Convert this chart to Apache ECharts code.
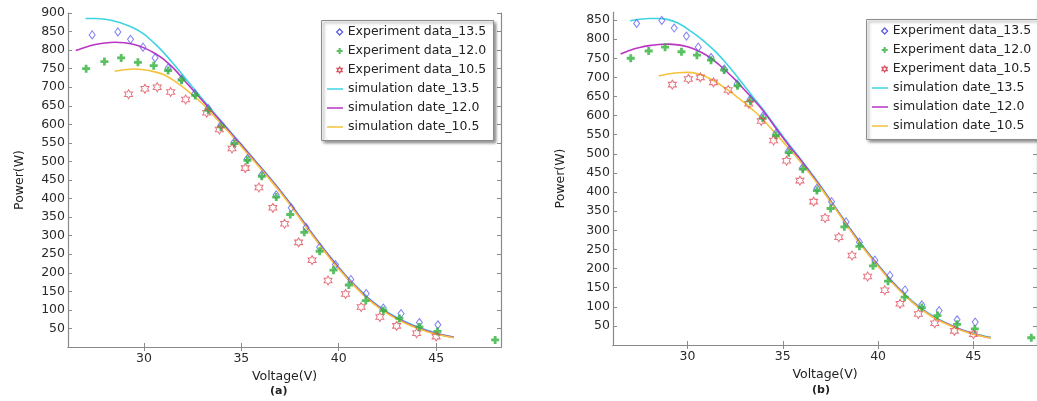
<!DOCTYPE html>
<html>
<head>
<meta charset="utf-8">
<script src="https://cdn.jsdelivr.net/npm/echarts@6/dist/echarts.min.js"></script>
<style>html,body{margin:0;padding:0;background:#fff;}#c{width:1037px;height:401px;}</style>
</head>
<body>
<div id="c"></div>
<script>
// ---------- data ----------
const xTickLabels = [30, 35, 40, 45];
const yTickLabelsA = [50,100,150,200,250,300,350,400,450,500,550,600,650,700,750,800,850,900];
const yTickLabelsB = [50,100,150,200,250,300,350,400,450,500,550,600,650,700,750,800,850];

const seriesNames = ['Experiment data_13.5','Experiment data_12.0','Experiment data_10.5',
                     'simulation date_13.5','simulation date_12.0','simulation date_10.5'];

const exp135V = [27.34,28.66,29.31,29.95,30.57,31.24,31.93,32.61,33.3,33.95,34.64,35.31,36.05,36.79,37.56,38.32,39.02,39.83,40.62,41.41,42.29,43.2,44.14,45.09];
const exp135P = [841,849,829,808,779,752,722,683,643,598,553,508,464,410,375,322,269,222,182,144,105,90,66,60];

const exp120V = [27.03,27.97,28.83,29.69,30.5,31.24,31.93,32.63,33.3,33.95,34.64,35.31,36.05,36.79,37.51,38.23,39.02,39.73,40.52,41.39,42.29,43.11,44.14,45.07,48.03];
const exp120P = [750,769,779,767,758,745,719,678,638,593,548,503,460,404,357,309,258,207,167,125,98,77,54,42,19];

const exp105V = [29.21,30.05,30.68,31.37,32.14,33.22,33.87,34.52,35.2,35.9,36.62,37.22,37.94,38.63,39.45,40.35,41.15,42.11,42.97,44.0,45.0];
const exp105P = [681,696,700,687,667,631,586,535,482,430,375,332,282,234,179,143,108,81,57,37,28];

const simV = [26.5,27,27.5,28,28.5,29,29.5,30,30.5,31,31.5,32,32.5,33,33.5,34,34.5,35,35.5,36,36.5,37,37.5,38,38.5,39,39.5,40,40.5,41,41.5,42,42.5,43,43.5,44,44.5,45,45.5,45.9];
// chart (a)
const simA135 = [null,885,885,883,878,870,859,843,820,794,764,732,700,668,637,607,576,546,515,485,454,422,388,352,316,281,247,215,185,158,133,112,94,79,66,55,46,38,31,27];
const simA120 = [799,808,815,819,821,820,815,806,793,776,752,723,693,664,634,605,574,544,513,483,452,420,386,350,314,279,245,213,183,156,131,110,92,77,64,53,44,36,30,26];
const simA105 = [null,null,null,null,743,747,749,747,742,734,719,700,679,656,628,599,570,540,510,480,449,417,383,347,311,276,242,210,181,154,129,108,90,75,62,51,42,35,29,25];
// chart (b)
const simB135 = [null,848,852,854,854,851,842,827,809,789,766,739,709,677,645,614,580,546,514,482,449,415,379,343,307,272,240,210,180,153,128,106,88,72,59,48,38,30,24,20];
const simB120 = [761,771,778,783,786,787,785,780,771,758,740,718,694,667,640,611,577,543,511,480,447,413,377,341,305,270,238,208,178,151,126,104,86,70,58,47,37,29,23,19];
const simB105 = [null,null,null,null,704,709,712,713,710,701,688,671,653,633,612,588,560,532,504,475,443,410,375,339,303,268,236,206,176,149,125,103,85,69,57,46,36,28,22,18];

// ---------- styles ----------
const FONT = 'DejaVu Sans';
const C_BLUE = '#5c5cf2', C_GREEN = '#2fb23a', C_RED = '#e0505e';
const C_CYAN = '#3fd4e2', C_MAG = '#b935c2', C_YEL = '#f4c23c';
const PLUS = 'path://M2.6,0H5.4V2.6H8V5.4H5.4V8H2.6V5.4H0V2.6H2.6Z';
const HEX = 'path://M5,0L6.443,2.5L9.33,2.5L7.887,5L9.33,7.5L6.443,7.5L5,10L3.557,7.5L0.67,7.5L2.113,5L0.67,2.5L3.557,2.5Z';

const pairs = (xs, ys) => xs.map((x, i) => [x, ys[i]]);

const gridsDef = [
  {left: 68, top: 13, width: 433, height: 334},
  {left: 613, top: 12, width: 433, height: 333}
];
const yMax = [900, 871];
const yLabs = [yTickLabelsA, yTickLabelsB];
const nameGapY = [42, 46];
const X_MIN = 26.1, X_MAX = 48.33;

const axisLine = {show: true, lineStyle: {color: '#8a8a8a', width: 1.2}};
const tickStyle = {lineStyle: {color: '#8a8a8a', width: 1}};

const xAxes = [], yAxes = [], series = [];
gridsDef.forEach((g, gi) => {
  xAxes.push({
    type: 'value', gridIndex: gi, min: X_MIN, max: X_MAX, position: 'bottom',
    name: 'Voltage(V)', nameLocation: 'middle', nameGap: 13,
    nameTextStyle: {fontFamily: FONT, fontSize: 12.5, color: '#222'},
    axisLine: axisLine, splitLine: {show: false},
    axisTick: Object.assign({show: true, inside: true, length: 4, customValues: xTickLabels}, tickStyle),
    axisLabel: {show: true, customValues: xTickLabels, margin: 5, fontFamily: FONT, fontSize: 12.5, color: '#2a2a2a'}
  });
  xAxes.push({
    type: 'value', gridIndex: gi, min: X_MIN, max: X_MAX, position: 'top',
    axisLine: axisLine, splitLine: {show: false},
    axisTick: Object.assign({show: true, inside: true, length: 4, customValues: xTickLabels}, tickStyle),
    axisLabel: {show: false}
  });
  yAxes.push({
    type: 'value', gridIndex: gi, min: 0, max: yMax[gi], position: 'left',
    name: 'Power(W)', nameLocation: 'middle', nameGap: nameGapY[gi],
    nameTextStyle: {fontFamily: FONT, fontSize: 12.5, color: '#222'},
    axisLine: axisLine, splitLine: {show: false},
    axisTick: Object.assign({show: true, inside: true, length: 4, customValues: yLabs[gi]}, tickStyle),
    axisLabel: {show: true, customValues: yLabs[gi], margin: 3, fontFamily: FONT, fontSize: 12.5, color: '#2a2a2a'}
  });
  yAxes.push({
    type: 'value', gridIndex: gi, min: 0, max: yMax[gi], position: 'right',
    axisLine: axisLine, splitLine: {show: false},
    axisTick: Object.assign({show: true, inside: true, length: 4, customValues: yLabs[gi]}, tickStyle),
    axisLabel: {show: false}
  });

  const xi = gi * 2, yi = gi * 2;
  const sims = gi === 0 ? [simA135, simA120, simA105] : [simB135, simB120, simB105];
  const simColors = [C_CYAN, C_MAG, C_YEL];
  sims.forEach((arr, k) => {
    series.push({
      type: 'line', name: seriesNames[3 + k], xAxisIndex: xi, yAxisIndex: yi,
      data: pairs(simV, arr), smooth: 0.3, showSymbol: false, symbol: 'none',
      lineStyle: {color: simColors[k], width: 1.6}, itemStyle: {color: simColors[k]},
      connectNulls: false, silent: true, z: 2
    });
  });
  series.push({
    type: 'scatter', name: seriesNames[0], xAxisIndex: xi, yAxisIndex: yi,
    data: pairs(exp135V, exp135P), symbol: 'diamond', symbolSize: [6, 8],
    itemStyle: {color: 'rgba(255,255,255,0)', borderColor: C_BLUE, borderWidth: 1}, z: 3
  });
  series.push({
    type: 'scatter', name: seriesNames[1], xAxisIndex: xi, yAxisIndex: yi,
    data: pairs(exp120V, exp120P), symbol: PLUS, symbolSize: 8,
    itemStyle: {color: C_GREEN}, z: 3
  });
  series.push({
    type: 'scatter', name: seriesNames[2], xAxisIndex: xi, yAxisIndex: yi,
    data: pairs(exp105V, exp105P), symbol: HEX, symbolSize: [8, 9],
    itemStyle: {color: 'rgba(255,255,255,0)', borderColor: C_RED, borderWidth: 1}, z: 3
  });
});

const legendBoxes = [{x: 321, y: 20}, {x: 866, y: 19}];
const legends = [];
const graphics = [];
legendBoxes.forEach((b, i) => {
  graphics.push({
    type: 'rect', left: b.x, top: b.y, z: 5,
    shape: {width: 172, height: 120},
    style: {fill: '#fff', stroke: '#8c8c8c', lineWidth: 1,
            shadowBlur: 3, shadowOffsetX: 2, shadowOffsetY: 2, shadowColor: 'rgba(0,0,0,0.45)'}
  });
  legends.push({
    orient: 'vertical', left: b.x + 15, top: b.y + 2.5, padding: 0, itemGap: 0,
    itemWidth: 6, itemHeight: 6, selectedMode: false, z: 10,
    textStyle: {fontFamily: FONT, fontSize: 12.5, color: '#222', lineHeight: 19},
    data: [
      {name: seriesNames[0], icon: 'diamond', itemStyle: {color: 'rgba(255,255,255,0)', borderColor: '#3535d8', borderWidth: 1.3}},
      {name: seriesNames[1], icon: PLUS, itemStyle: {color: C_GREEN}},
      {name: seriesNames[2], icon: HEX, itemStyle: {color: 'rgba(255,255,255,0)', borderColor: '#cc2a3a', borderWidth: 1.3}}
    ]
  });
  legends.push({
    orient: 'vertical', left: b.x + 6, top: b.y + 59.5, padding: 0, itemGap: 0,
    itemWidth: 16, itemHeight: 1.5, selectedMode: false, z: 10,
    textStyle: {fontFamily: FONT, fontSize: 12.5, color: '#222', lineHeight: 19},
    data: [
      {name: seriesNames[3], icon: 'rect'},
      {name: seriesNames[4], icon: 'rect'},
      {name: seriesNames[5], icon: 'rect'}
    ]
  });
});

graphics.push({type: 'text', left: 270, top: 386, z: 5,
  style: {text: '(a)', font: 'bold 11px "DejaVu Sans"', fill: '#222'}});
graphics.push({type: 'text', left: 812, top: 385, z: 5,
  style: {text: '(b)', font: 'bold 11px "DejaVu Sans"', fill: '#222'}});

const chart = echarts.init(document.getElementById('c'), null, {renderer: 'canvas'});
chart.setOption({
  backgroundColor: '#fff',
  animation: false,
  grid: gridsDef,
  xAxis: xAxes,
  yAxis: yAxes,
  legend: legends,
  graphic: {elements: graphics},
  series: series
});
</script>
</body>
</html>
